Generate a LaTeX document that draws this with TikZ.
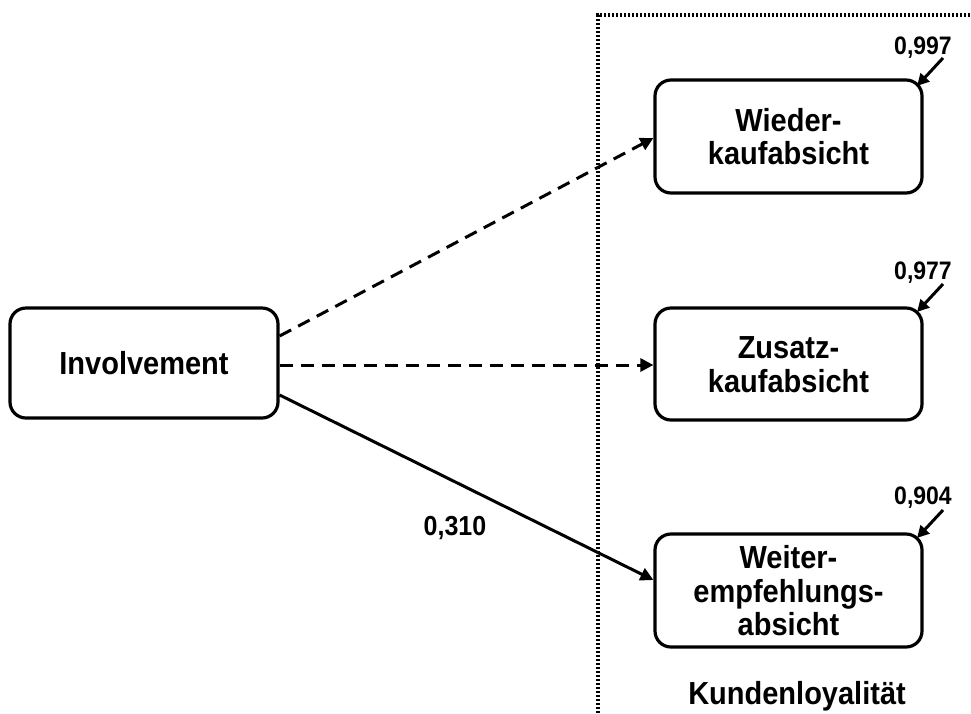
\documentclass[tikz,border=0pt]{standalone}
\usepackage{fontspec}
\usepackage{graphicx}
\setmainfont{Liberation Sans}
\usetikzlibrary{arrows.meta}
% slightly tall lettering, one or more centred lines, set a little low in its box
\newcommand{\tallset}[1]{\raisebox{0pt}[\dimexpr\height+0.34em\relax]{\scalebox{1}[1.1]{\begin{tabular}{@{}c@{}}#1\end{tabular}}}}
\begin{document}
\begin{tikzpicture}[x=1pt,y=-1pt,
  construct/.style={draw, line width=3.2pt, rounded corners=16pt,
    font=\bfseries\fontsize{29}{30.6}\selectfont, inner sep=0pt},
  path/.style={line width=3pt, -{Triangle[length=13pt,width=13pt]}},
  dashpath/.style={path, dash pattern=on 13pt off 8pt},
  rsq/.style={font=\bfseries\fontsize{23}{26}\selectfont, inner sep=0pt},
  resid/.style={line width=3pt, -{Triangle[length=12pt,width=12pt]}},
  frame/.style={line width=3.6pt, dash pattern=on 2.4pt off 1.6pt}]
\useasboundingbox (0,0) rectangle (971,713);

% latent construct boxes
\node[construct, minimum width=268pt, minimum height=110pt] (inv) at (144,363) {\tallset{Involvement}};
\node[construct, minimum width=267pt, minimum height=113pt] (wk) at (788.5,136.5) {\tallset{Wieder-\\kaufabsicht}};
\node[construct, minimum width=267pt, minimum height=112pt] (zk) at (788.5,364) {\tallset{Zusatz-\\kaufabsicht}};
\node[construct, minimum width=267pt, minimum height=113pt] (we) at (788.5,590.5) {\tallset{Weiter-\\empfehlungs-\\absicht}};

% dotted frame around the loyalty block
\coordinate (ftop) at (598,15);
\coordinate (fbot) at (598,713);
\coordinate (fright) at (971,15);
\draw[frame] (fbot) -- (ftop) -- (fright);

% structural paths
\draw[dashpath] (inv.east |- 0,336) -- (wk.west |- 0,138);
\draw[dashpath] (inv.east |- 0,365) -- (zk.west |- 0,365);
\draw[path] (inv.east |- 0,395) -- (we.west |- 0,580);
\node[rsq, font=\bfseries\fontsize{25}{28}\selectfont] (pc) at (455,525) {\tallset{0,310}};

% explained variance labels
\node[rsq] (r1) at (923,45) {\tallset{0,997}};
\node[rsq] (r2) at (923,270) {\tallset{0,977}};
\node[rsq] (r3) at (923,495) {\tallset{0,904}};
\coordinate (t1) at (917,86);
\coordinate (t2) at (917,312);
\coordinate (t3) at (917,538);
\draw[resid] (943,58) -- (t1);
\draw[resid] (943,284) -- (t2);
\draw[resid] (943,510) -- (t3);

\node[font=\bfseries\fontsize{29}{33}\selectfont, inner sep=0pt] (kl) at (797,692) {\tallset{Kundenloyalität}};
\end{tikzpicture}
\end{document}
